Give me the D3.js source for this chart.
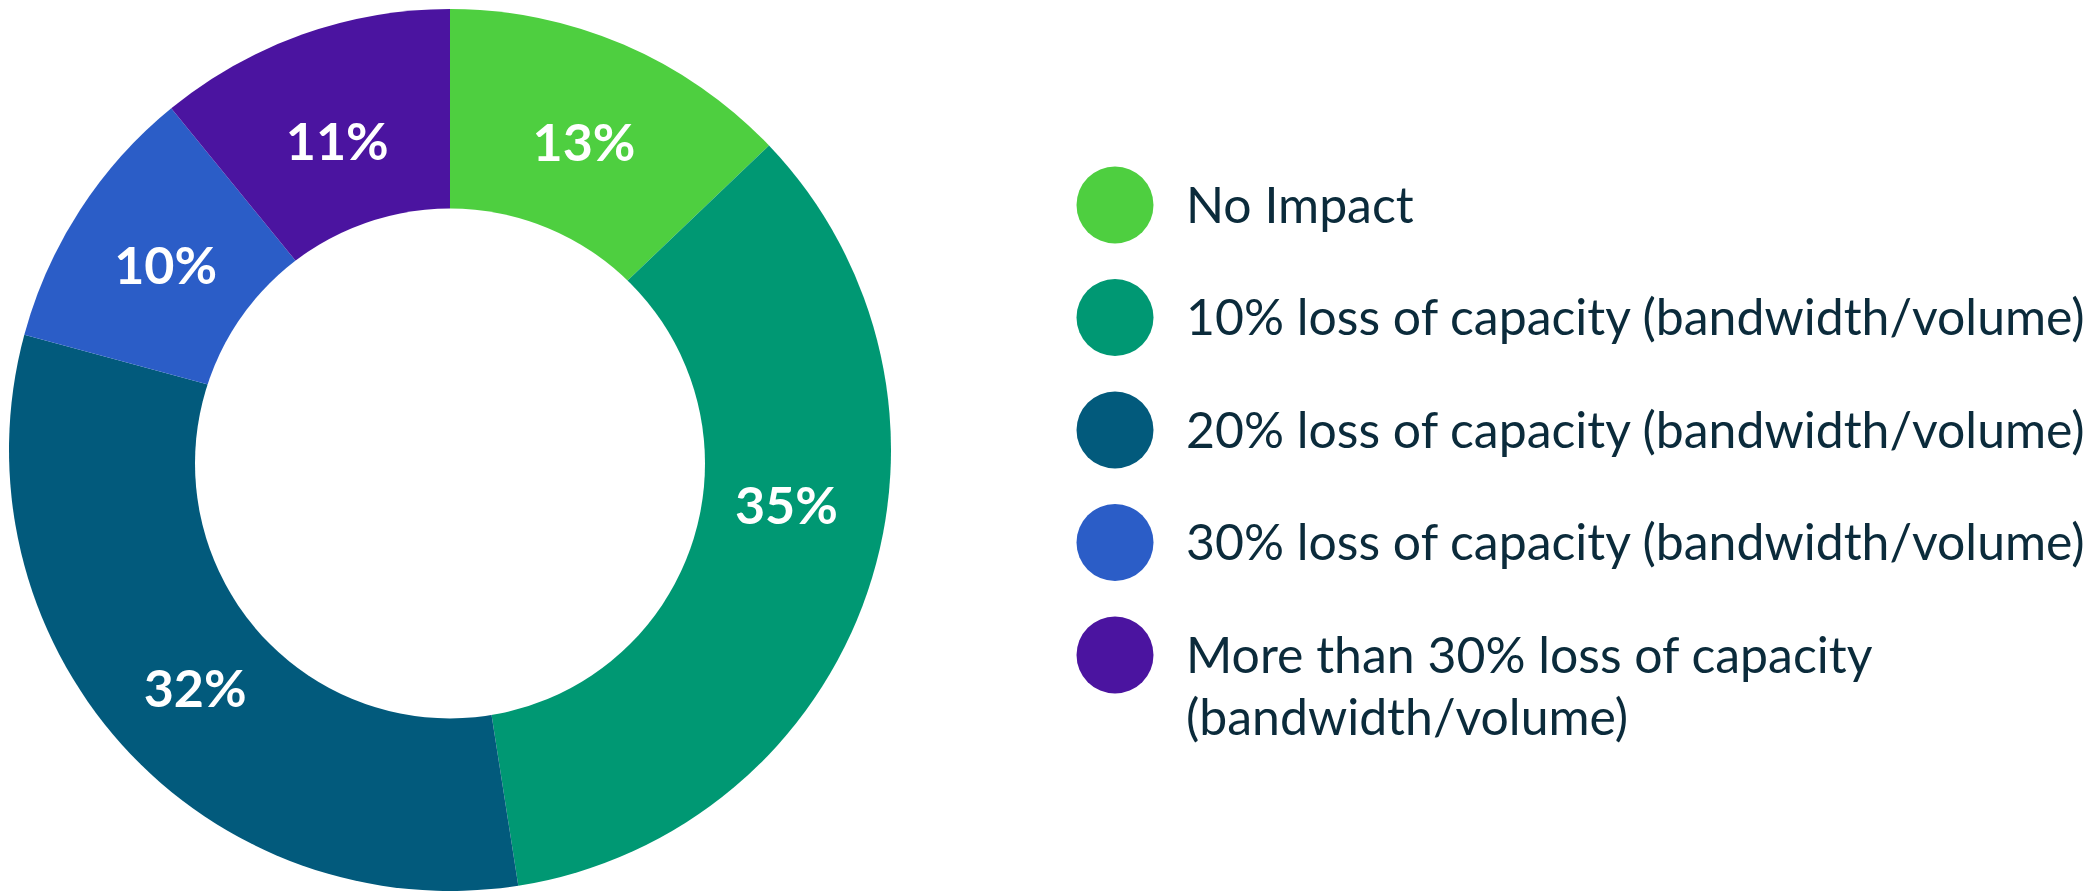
<!DOCTYPE html>
<html>
<head>
<meta charset="utf-8">
<script src="https://cdn.jsdelivr.net/npm/d3@7"></script>
<style>
  body { margin: 0; background: #fff; }
  svg { display: block; }
  .slice-label { font-family: Lato, "Open Sans", sans-serif; font-weight: 700; fill: #fff; }
  .legend-text { font-family: Lato, "Open Sans", sans-serif; fill: #0b2b3b; }
</style>
</head>
<body>
<div id="chart"></div>
<script>
const categories = [
  ['No Impact'],
  ['10% loss of capacity (bandwidth/volume)'],
  ['20% loss of capacity (bandwidth/volume)'],
  ['30% loss of capacity (bandwidth/volume)'],
  ['More than 30% loss of capacity', '(bandwidth/volume)']
];
const values = [13, 35, 32, 10, 11];
const colors = ['#4ecf40', '#009873', '#025a7c', '#2b5dc7', '#4b14a0'];

const width = 2096, height = 895;
const cx = 450, cy = 450;
const outerR = 441;
// the hole in the original sits a little below the pie centre
const holeR = 255, holeDy = 13.5;
const labelR = 341;

// the original tool nudged a few labels off the centroid (degrees, px)
const labelAngleNudge = [0.4, -9.3, -1.2, 0, -0.5];
const labelRadiusNudge = [-6, 0, 8, -2, -13];

const svg = d3.select('#chart').append('svg')
  .attr('width', width)
  .attr('height', height);

const pie = d3.pie().sort(null).value(d => d);
const arc = d3.arc().innerRadius(0).outerRadius(outerR);

const arcs = pie(values);

const donut = svg.append('g').attr('transform', `translate(${cx},${cy})`);

donut.selectAll('path')
  .data(arcs)
  .enter().append('path')
  .attr('d', arc)
  .attr('fill', (d, i) => colors[i]);

donut.append('circle')
  .attr('cx', 0)
  .attr('cy', holeDy)
  .attr('r', holeR)
  .attr('fill', '#fff');

function labelPos(d, i) {
  const a = (d.startAngle + d.endAngle) / 2 + labelAngleNudge[i] * Math.PI / 180;
  const r = labelR + labelRadiusNudge[i];
  return [r * Math.sin(a), -r * Math.cos(a)];
}

donut.selectAll('text')
  .data(arcs)
  .enter().append('text')
  .attr('class', 'slice-label')
  .attr('transform', (d, i) => `translate(${labelPos(d, i)})`)
  .attr('text-anchor', 'middle')
  .attr('dy', '0.35em')
  .style('font-size', '52px')
  .text(d => d.data + '%');

// legend
const legendX = 1115, legendTop = 205, legendStep = 112.5;
const y = d3.scaleLinear().domain([0, 1]).range([legendTop, legendTop + legendStep]);

const legend = svg.append('g');
const items = legend.selectAll('g')
  .data(categories)
  .enter().append('g')
  .attr('transform', (d, i) => `translate(${legendX},${y(i)})`);

items.append('circle')
  .attr('r', 38.5)
  .attr('fill', (d, i) => colors[i]);

const texts = items.append('text')
  .attr('class', 'legend-text')
  .attr('x', 71)
  .style('font-size', '50px');

texts.selectAll('tspan')
  .data(d => d)
  .enter().append('tspan')
  .attr('x', 71)
  .attr('dy', (d, i) => i === 0 ? '0.35em' : '1.26em')
  .text(d => d);

// shrink the font if the longest line runs past the target width
let maxW = 0;
texts.each(function () { maxW = Math.max(maxW, this.getBBox().width); });
if (maxW > 899) {
  const fs = 50 * 899 / maxW;
  texts.style('font-size', fs + 'px');
}
</script>
</body>
</html>
